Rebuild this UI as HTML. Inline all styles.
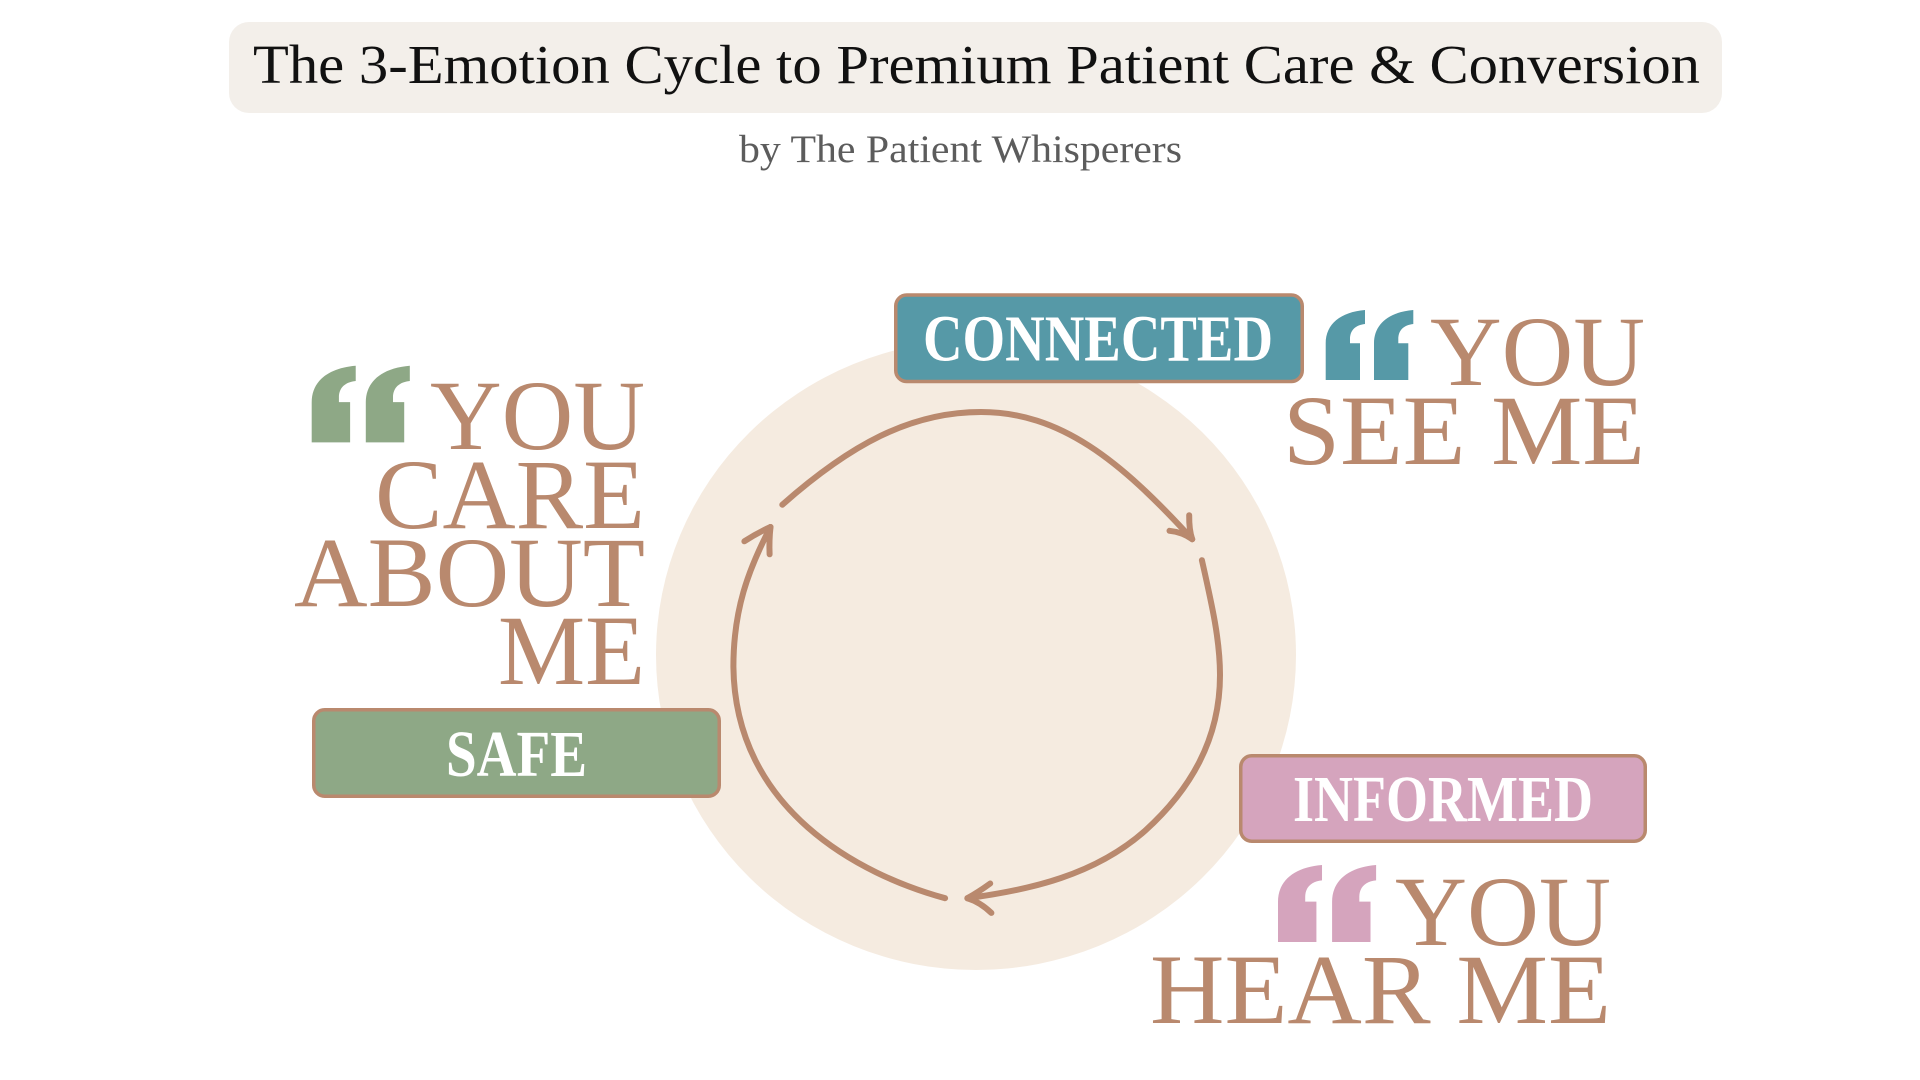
<!DOCTYPE html>
<html>
<head>
<meta charset="utf-8">
<style>
  html,body{margin:0;padding:0;background:#ffffff;}
  body{width:1920px;height:1080px;overflow:hidden;}
  svg{display:block;}
  .serif{font-family:"Liberation Serif","DejaVu Serif",serif;}
</style>
</head>
<body>
<svg width="1920" height="1080" viewBox="0 0 1920 1080" xmlns="http://www.w3.org/2000/svg">
  <defs>
    <path id="qm" d="M0,70 L34.3,70 L34.3,33.3 L24.3,33.3 L24.3,29 C24.3,20 30,15 39.3,14 L39.3,0 C15,2 0,14 0,33.3 Z"/>
  </defs>

  <!-- Title -->
  <rect x="229" y="22" width="1493" height="91" rx="20" ry="20" fill="#f3efea"/>
  <text class="serif" x="253" y="83" font-size="55" fill="#111111" textLength="1447" lengthAdjust="spacingAndGlyphs">The 3-Emotion Cycle to Premium Patient Care &amp; Conversion</text>
  <text class="serif" x="739" y="162" font-size="39" fill="#5c5c5c" textLength="443" lengthAdjust="spacingAndGlyphs">by The Patient Whisperers</text>

  <!-- Background circle -->
  <ellipse cx="976" cy="655" rx="320" ry="315" fill="#f5ebe0"/>

  <!-- Cycle arrows -->
  <g fill="none" stroke="#b9896e" stroke-width="6" stroke-linecap="round" stroke-linejoin="round">
    <!-- top arc -->
    <path d="M782.3,504.7 C850,445 910,412 981,412 C1060,412 1120,460 1192.2,539.2"/>
    <path d="M1189.2,515.2 Q1189,530 1192.2,539.2"/>
    <path d="M1169.5,530.8 Q1182,532 1192.2,539.2"/>
    <!-- right arc -->
    <path d="M1201.9,560.2 C1212,605 1220,640 1220,675 C1220,740 1190,790 1145,830.8 C1095,875 1030,890 967.4,898.2"/>
    <path d="M990.2,883.5 Q977,893 967.4,898.2"/>
    <path d="M991.4,912.9 Q980,902 967.4,898.2"/>
    <!-- left arc -->
    <path d="M945.1,898.2 C860,875 735,810 733.4,666.7 C733.4,610 748,570 770.5,527"/>
    <path d="M744.4,541.3 Q757,533 770.5,527"/>
    <path d="M769.6,554.3 Q769,540 770.5,527"/>
  </g>

  <!-- SAFE box -->
  <rect x="313.75" y="709.75" width="405.5" height="86.5" rx="11" ry="11" fill="#8ea886" stroke="#b9896e" stroke-width="3.5"/>
  <text class="serif" x="446" y="776" font-size="66" font-weight="bold" fill="#ffffff" textLength="141" lengthAdjust="spacingAndGlyphs">SAFE</text>

  <!-- CONNECTED box -->
  <rect x="895.75" y="295" width="406.5" height="86.5" rx="11" ry="11" fill="#5699a7" stroke="#b9896e" stroke-width="3.5"/>
  <text class="serif" x="923" y="360.5" font-size="66" font-weight="bold" fill="#ffffff" textLength="350" lengthAdjust="spacingAndGlyphs">CONNECTED</text>

  <!-- INFORMED box -->
  <rect x="1240.75" y="755.75" width="404.5" height="85.5" rx="11" ry="11" fill="#d5a4bd" stroke="#b9896e" stroke-width="3.5"/>
  <text class="serif" x="1293" y="821" font-size="66" font-weight="bold" fill="#ffffff" textLength="300" lengthAdjust="spacingAndGlyphs">INFORMED</text>

  <!-- Quote marks -->
  <g fill="#8ea886" transform="translate(311.7,365.7) scale(1.12,1.095)">
    <use href="#qm"/>
    <use href="#qm" x="48.3"/>
  </g>
  <g fill="#5699a7" transform="translate(1325.7,310)">
    <use href="#qm"/>
    <use href="#qm" x="48.3"/>
  </g>
  <g fill="#d5a4bd" transform="translate(1278,865) scale(1.12,1.1)">
    <use href="#qm"/>
    <use href="#qm" x="48.3"/>
  </g>

  <!-- Big phrases -->
  <g class="serif" font-size="100" fill="#b9896e">
    <text x="430" y="449" textLength="215" lengthAdjust="spacingAndGlyphs">YOU</text>
    <text x="375" y="528" textLength="270" lengthAdjust="spacingAndGlyphs">CARE</text>
    <text x="294" y="606" textLength="351" lengthAdjust="spacingAndGlyphs">ABOUT</text>
    <text x="498" y="684" textLength="147" lengthAdjust="spacingAndGlyphs">ME</text>

    <text x="1430" y="385" textLength="215" lengthAdjust="spacingAndGlyphs">YOU</text>
    <text x="1283" y="464" textLength="362" lengthAdjust="spacingAndGlyphs">SEE ME</text>

    <text x="1395" y="945" textLength="216" lengthAdjust="spacingAndGlyphs">YOU</text>
    <text x="1150" y="1023" textLength="461" lengthAdjust="spacingAndGlyphs">HEAR ME</text>
  </g>
</svg>
</body>
</html>
